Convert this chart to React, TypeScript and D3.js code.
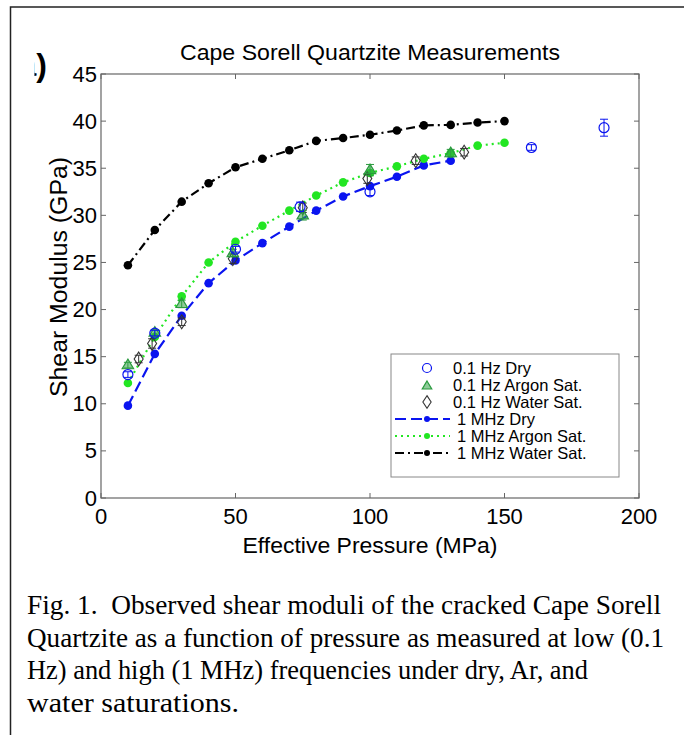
import React from "react";
import * as d3 from "d3";

// 1 MHz (ultrasonic) series, pressure in MPa
const highP = [10, 20, 30, 40, 50, 60, 70, 80, 90, 100, 110, 120, 130, 140, 150];
const dryHigh = [9.8, 15.3, 19.35, 22.8, 25.2, 27.05, 28.8, 30.5, 32.0, 33.1, 34.1, 35.3, 35.8];
const argonHigh = [12.2, 17.1, 21.4, 25.0, 27.2, 28.9, 30.5, 32.1, 33.5, 34.5, 35.2, 36.0, 36.6, 37.4, 37.7];
const waterHigh = [24.7, 28.45, 31.45, 33.4, 35.1, 36.0, 36.9, 37.9, 38.2, 38.55, 39.0, 39.55, 39.6, 39.85, 40.0];

// 0.1 Hz series with error bars
const dryLowP = [10, 20, 50, 74, 100, 160, 187];
const dryLowG = [13.1, 17.5, 26.4, 30.9, 32.5, 37.2, 39.3];
const dryLowErr = [0.3, 0.3, 0.3, 0.5, 0.4, 0.3, 0.9];
const argonLowP = [10, 20, 30, 49, 75, 100, 130];
const argonLowG = [14.1, 17.55, 20.6, 26.0, 30.0, 34.8, 36.6];
const argonLowErr = [0.3, 0.3, 0.4, 0.4, 0.5, 0.6, 0.4];
const waterLowP = [14, 19, 30, 49, 75, 99, 117, 135];
const waterLowG = [14.75, 16.4, 18.7, 25.4, 30.8, 33.9, 35.8, 36.7];
const waterLowErr = [0.4, 0.5, 0.4, 0.5, 0.5, 0.5, 0.4, 0.4];

const xTicks = [0, 50, 100, 150, 200];
const yTicks = [0, 5, 10, 15, 20, 25, 30, 35, 40, 45];

const legendLabels = [
  "0.1 Hz Dry",
  "0.1 Hz Argon Sat.",
  "0.1 Hz Water Sat.",
  "1 MHz Dry",
  "1 MHz Argon Sat.",
  "1 MHz Water Sat.",
];

const captionLines = [
  "Fig. 1.  Observed shear moduli of the cracked Cape Sorell",
  "Quartzite as a function of pressure as measured at low (0.1",
  "Hz) and high (1 MHz) frequencies under dry, Ar, and",
  "water saturations.",
];
const captionWidths = [634, 637, 561, 212];

const BLUE = "#0a14f0";
const GREEN = "#22e622";
const TRI = "#2a9a3e";
const font = "'Liberation Sans', Arial, sans-serif";

const left = 101, right = 639, top = 74, bottom = 498;

const App = () => {
  const x = d3.scaleLinear().domain([0, 200]).range([left, right]);
  const y = d3.scaleLinear().domain([0, 45]).range([bottom, top]);

  const line = d3.line<[number, number]>().x(d => x(d[0])).y(d => y(d[1]));
  const pairs = (vals: number[]) => vals.map((v, i) => [highP[i], v] as [number, number]);

  const highSeries = [
    { vals: dryHigh, color: BLUE, dash: "11,5" },
    { vals: argonHigh, color: GREEN, dash: "2,4" },
    { vals: waterHigh, color: "#000", dash: "9,4,2,4" },
  ];

  const errBars = (ps: number[], gs: number[], es: number[], color: string) =>
    ps.map((p, i) => (
      <g key={"e" + i} stroke={color} strokeWidth={1}>
        <line x1={x(p)} x2={x(p)} y1={y(gs[i] - es[i])} y2={y(gs[i] + es[i])} />
        <line x1={x(p) - 4} x2={x(p) + 4} y1={y(gs[i] - es[i])} y2={y(gs[i] - es[i])} />
        <line x1={x(p) - 4} x2={x(p) + 4} y1={y(gs[i] + es[i])} y2={y(gs[i] + es[i])} />
      </g>
    ));

  const tri = (cx: number, cy: number, s: number) =>
    `M${cx},${cy - s}L${cx + s * 0.95},${cy + s * 0.6}L${cx - s * 0.95},${cy + s * 0.6}Z`;
  const dia = (cx: number, cy: number, s: number) =>
    `M${cx},${cy - s * 1.15}L${cx + s * 0.75},${cy}L${cx},${cy + s * 1.15}L${cx - s * 0.75},${cy}Z`;

  const legX = 391, legY = 354, legW = 228, legH = 123;
  const rowY = (i: number) => 368 + i * 17;

  return (
    <div style={{ position: "absolute", left: 0, top: 0 }}>
      <svg width={684} height={735} style={{ display: "block", background: "#fff" }}>
        <defs>
          <clipPath id="panelClip">
            <rect x={34.5} y={40} width={40} height={60} />
          </clipPath>
        </defs>
        {/* outer frame */}
        <rect x={10.5} y={7} width={700} height={760} fill="none" stroke="#222" strokeWidth={1.5} />

        {/* panel label, cut off */}
        <text x={47} y={76} textAnchor="end" fontFamily={font} fontWeight="bold" fontSize={32}
          clipPath="url(#panelClip)">(a)</text>

        {/* title */}
        <text x={370} y={60} textAnchor="middle" fontFamily={font} fontSize={22} textLength={380}
          lengthAdjust="spacingAndGlyphs">
          Cape Sorell Quartzite Measurements
        </text>

        {/* axes box */}
        <rect x={left} y={top} width={right - left} height={bottom - top} fill="none" stroke="#666" strokeWidth={1.2} />
        {xTicks.map(t => (
          <g key={"x" + t}>
            <line x1={x(t)} x2={x(t)} y1={bottom} y2={bottom - 5} stroke="#666" />
            <line x1={x(t)} x2={x(t)} y1={top} y2={top + 5} stroke="#666" />
            <text x={x(t)} y={524} textAnchor="middle" fontFamily={font} fontSize={22}>{t}</text>
          </g>
        ))}
        {yTicks.map(t => (
          <g key={"y" + t}>
            <line x1={left} x2={left + 5} y1={y(t)} y2={y(t)} stroke="#666" />
            <line x1={right} x2={right - 5} y1={y(t)} y2={y(t)} stroke="#666" />
            <text x={97} y={y(t) + 7.5} textAnchor="end" fontFamily={font} fontSize={22}>{t}</text>
          </g>
        ))}
        <text x={370} y={553} textAnchor="middle" fontFamily={font} fontSize={22} textLength={255}
          lengthAdjust="spacingAndGlyphs">Effective Pressure (MPa)</text>
        <text transform={`translate(67,277) rotate(-90)`} textAnchor="middle" fontFamily={font} fontSize={23}
          textLength={240} lengthAdjust="spacingAndGlyphs">
          Shear Modulus (GPa)
        </text>

        {/* 1 MHz lines */}
        {highSeries.map((s, k) => (
          <g key={"h" + k}>
            <path d={line(pairs(s.vals)) || ""} fill="none" stroke={s.color} strokeWidth={2.2} strokeDasharray={s.dash} />
            {pairs(s.vals).map((d, i) => (
              <circle key={i} cx={x(d[0])} cy={y(d[1])} r={4.3} fill={s.color} />
            ))}
          </g>
        ))}

        {/* 0.1 Hz markers */}
        {errBars(waterLowP, waterLowG, waterLowErr, "#333")}
        {waterLowP.map((p, i) => (
          <path key={"wd" + i} d={dia(x(p), y(waterLowG[i]), 6)} fill="none" stroke="#333" strokeWidth={1.1} />
        ))}
        {errBars(argonLowP, argonLowG, argonLowErr, TRI)}
        {argonLowP.map((p, i) => (
          <path key={"at" + i} d={tri(x(p), y(argonLowG[i]), 6)} fill="rgba(50,160,70,0.55)" stroke={TRI} strokeWidth={1.2} />
        ))}
        {errBars(dryLowP, dryLowG, dryLowErr, BLUE)}
        {dryLowP.map((p, i) => (
          <circle key={"dc" + i} cx={x(p)} cy={y(dryLowG[i])} r={5} fill="none" stroke={BLUE} strokeWidth={1.2} />
        ))}

        {/* legend */}
        <rect x={legX} y={legY} width={legW} height={legH} fill="#fff" stroke="#888" strokeWidth={1} />
        <circle cx={427} cy={rowY(0)} r={4.5} fill="none" stroke={BLUE} strokeWidth={1.2} />
        <path d={tri(427, rowY(1) + 1, 5)} fill="rgba(50,160,70,0.55)" stroke={TRI} strokeWidth={1.2} />
        <path d={dia(427, rowY(2), 5.5)} fill="none" stroke="#333" strokeWidth={1.1} />
        {highSeries.map((s, k) => (
          <g key={"lg" + k}>
            <line x1={395} x2={450} y1={rowY(3 + k)} y2={rowY(3 + k)} stroke={s.color} strokeWidth={2} strokeDasharray={s.dash} />
            <circle cx={427} cy={rowY(3 + k)} r={3} fill={s.color} />
          </g>
        ))}
        {legendLabels.map((l, i) => (
          <text key={"lt" + i} x={i < 3 ? 453 : 457} y={rowY(i) + 6} fontFamily={font} fontSize={16.5}>{l}</text>
        ))}

        {/* caption */}
        {captionLines.map((l, i) => (
          <text key={"c" + i} x={27} y={614 + i * 32.5} fontFamily="'Liberation Serif', 'Times New Roman', serif"
            fontSize={27} textLength={captionWidths[i]} lengthAdjust="spacingAndGlyphs"
            style={{ whiteSpace: "pre" }}>
            {l}
          </text>
        ))}
      </svg>
    </div>
  );
};

export default App;
